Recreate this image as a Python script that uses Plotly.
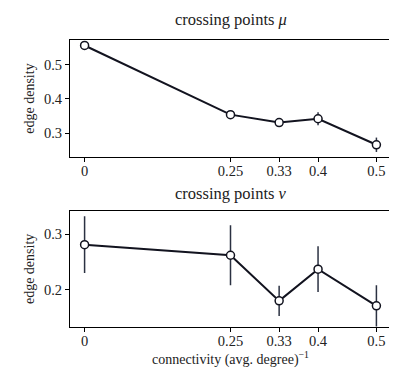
import plotly.graph_objects as go

# connectivity = 1 / avg. degree
connectivity = [0, 0.25, 1 / 3, 0.4, 0.5]
tick_vals = [0, 0.25, 1 / 3, 0.4, 0.5]
tick_text = ["0", "0.25", "0.33", "0.4", "0.5"]

# crossing points mu
mu_density = [0.556, 0.354, 0.331, 0.342, 0.266]
mu_err = [0.004, 0.012, 0.009, 0.019, 0.021]

# crossing points nu
nu_density = [0.281, 0.262, 0.180, 0.237, 0.171]
nu_err = [0.051, 0.054, 0.027, 0.041, 0.037]

LINE = "#12131f"
ERR = "#2b3142"
FONT = "Liberation Serif"

fig = go.Figure()

for y, err, xa, ya in [(mu_density, mu_err, "x", "y"), (nu_density, nu_err, "x2", "y2")]:
    fig.add_trace(go.Scatter(
        x=connectivity, y=y, mode="lines+markers",
        xaxis=xa, yaxis=ya,
        line=dict(color=LINE, width=2),
        marker=dict(size=8, color="white", line=dict(color=LINE, width=1.5)),
        error_y=dict(type="data", array=err, color=ERR, thickness=1.5, width=0),
        showlegend=False,
    ))

axis_common = dict(
    showline=True, linecolor="black", linewidth=1, mirror=True,
    ticks="outside", ticklen=4, tickcolor="black", showgrid=False, zeroline=False,
    tickfont=dict(family=FONT, size=14.5, color="#222"),
)
label_font = dict(family=FONT, size=14, color="#222")

fig.update_layout(
    width=397, height=373,
    margin=dict(l=62, r=14, t=32, b=54),
    plot_bgcolor="white", paper_bgcolor="white",
    font=dict(family=FONT, color="#222"),
    xaxis=dict(axis_common, domain=[0, 1], anchor="y", range=[-0.025, 0.525],
               tickvals=tick_vals, ticktext=tick_text, ticklabelstandoff=-3),
    yaxis=dict(axis_common, domain=[0.592, 1], anchor="x", range=[0.230, 0.572],
               tickvals=[0.3, 0.4, 0.5], ticktext=["0.3", "0.4", "0.5"],
               title=dict(text="edge density", font=label_font, standoff=6)),
    xaxis2=dict(axis_common, domain=[0, 1], anchor="y2", range=[-0.025, 0.525],
                tickvals=tick_vals, ticktext=tick_text, ticklabelstandoff=-3,
                title=dict(text="connectivity (avg. degree)<sup>−1</sup>",
                           font=label_font, standoff=0)),
    yaxis2=dict(axis_common, domain=[0, 0.405], anchor="x2", range=[0.133, 0.342],
                tickvals=[0.2, 0.3], ticktext=["0.2", "0.3"],
                title=dict(text="edge density", font=label_font, standoff=6)),
    annotations=[
        dict(text="crossing points <i>μ</i>", x=0.5, y=1, xref="paper", yref="paper",
             yanchor="bottom", yshift=9, showarrow=False, font=dict(family=FONT, size=16.5)),
        dict(text="crossing points <i>ν</i>", x=0.5, y=0.405, xref="paper", yref="paper",
             yanchor="bottom", yshift=6, showarrow=False, font=dict(family=FONT, size=16.5)),
    ],
)

fig.write_html("out.html")
